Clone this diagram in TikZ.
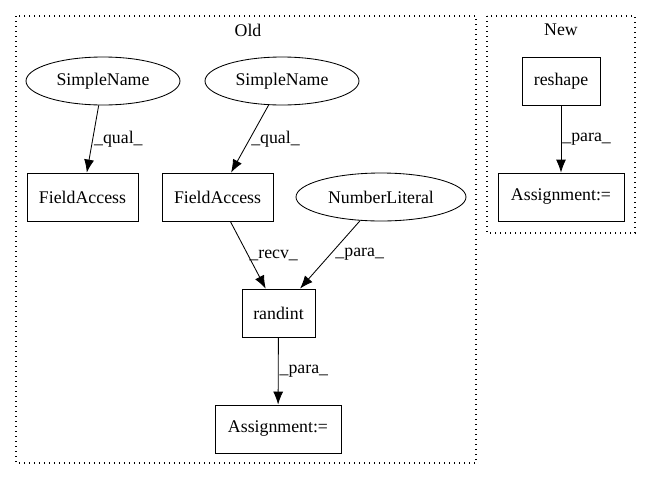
\documentclass[tikz,border=0pt]{standalone}
\usepackage{fontspec}
\setmainfont{Liberation Serif}
\usetikzlibrary{shapes.geometric,arrows.meta}

\begin{document}
\begin{tikzpicture}[x=1pt,y=-1pt,font=\fontsize{17.8}{20}\selectfont,line width=0.85pt,
  box/.style={draw,rectangle,minimum height=48pt,inner sep=0pt},
  oval/.style={draw,ellipse,minimum height=48pt,inner sep=0pt},
  lbl/.style={anchor=west,inner sep=1pt},
  cluster/.style={draw,line width=1.2pt,dash pattern=on 1.3pt off 3.7pt},
  >={Latex[length=13pt,width=10pt]}]
\useasboundingbox (0,0) rectangle (651,480);
% clusters
\draw [cluster] (16,16) rectangle (476,463);
\draw [cluster] (487,16) rectangle (635,233);
\node (old) at (248,30) {Old};
\node (new) at (561,30) {New};
% old
\node [oval, minimum width=154pt] (sn1) at (103,81) {SimpleName};
\node [oval, minimum width=154pt] (sn2) at (282,81) {SimpleName};
\node [box, minimum width=111pt] (fa1) at (82.5,197) {FieldAccess};
\node [box, minimum width=111pt] (fa2) at (217.5,197) {FieldAccess};
\node [oval, minimum width=170pt] (num) at (381,197) {NumberLiteral};
\node [box, minimum width=73pt] (rand) at (278.5,313) {randint};
\node [box, minimum width=126pt] (asgold) at (278,429) {Assignment:=};
% new
\node [box, minimum width=78pt] (resh) at (561,81) {reshape};
\node [box, minimum width=126pt] (asgnew) at (561,197) {Assignment:=};
% edges
\draw [->] (sn1) -- node [lbl] (q1) {\_qual\_} (fa1);
\draw [->] (sn2) -- node [lbl] (q2) {\_qual\_} (fa2);
\draw [->] (fa2) -- node [lbl] (rv) {\_recv\_} (rand);
\draw [->] (num) -- node [lbl,xshift=4pt] (p1) {\_para\_} (rand);
\draw [->] (rand) -- node [lbl] (p2) {\_para\_} (asgold);
\draw [->] (resh) -- node [lbl] (p3) {\_para\_} (asgnew);
\end{tikzpicture}
\end{document}
